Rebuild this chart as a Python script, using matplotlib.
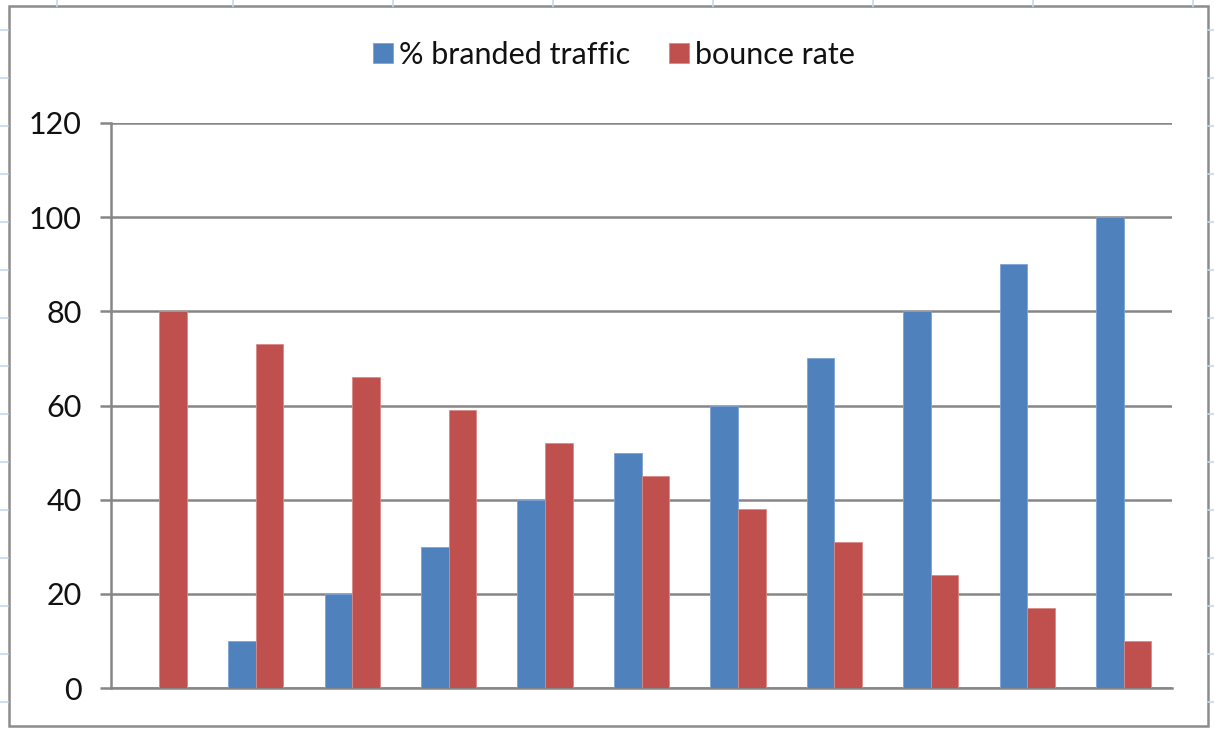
import matplotlib
matplotlib.use("Agg")
import matplotlib.pyplot as plt
from matplotlib.lines import Line2D
from matplotlib.patches import Rectangle
import numpy as np

plt.rcParams['font.family'] = ['Lato', 'DejaVu Sans']

# data
categories = list(range(1, 12))
branded_traffic = [0, 10, 20, 30, 40, 50, 60, 70, 80, 90, 100]
bounce_rate = [80, 73, 66, 59, 52, 45, 38, 31, 24, 17, 10]
y_ticks = [0, 20, 40, 60, 80, 100, 120]

blue = "#4F81BD"
red = "#C0504D"
grid_grey = "#868686"

W, H = 1214, 730
fig = plt.figure(figsize=(W / 100, H / 100), dpi=100)

# spreadsheet cell lines behind the chart object
sheet = "#C9D5EE"
for xv in [57, 233, 393, 553, 713, 873, 1033, 1193]:
    fig.add_artist(Line2D([xv / W, xv / W], [1, 1 - 6 / H], color=sheet, lw=1.2))
for yv in np.arange(30, 730, 48):
    fig.add_artist(Line2D([0, 8 / W], [1 - yv / H, 1 - yv / H], color=sheet, lw=1.2))
    fig.add_artist(Line2D([1208 / W, 1], [1 - yv / H, 1 - yv / H], color=sheet, lw=1.2))

# chart border
fig.add_artist(Rectangle((9 / W, 1 - 726 / H), 1199 / W, 720 / H, fill=False,
                         edgecolor="#8C8C8C", lw=1.8))

ax = fig.add_axes([111 / W, 1 - 688 / H, (1172 - 111) / W, (688 - 123) / H])

x = np.arange(len(categories))
w = 0.286
ax.bar(x - w / 2, branded_traffic, width=w, color=blue, edgecolor="#7FA3D4",
       linewidth=0.6, label="% branded traffic", zorder=3)
ax.bar(x + w / 2, bounce_rate, width=w, color=red, edgecolor="#D98A88",
       linewidth=0.6, label="bounce rate", zorder=3)

ax.set_xlim(-0.5, len(categories) - 0.5)
ax.set_ylim(0, 120)
ax.set_yticks(y_ticks)
ax.set_xticks([])
ax.yaxis.grid(True, color=grid_grey, linewidth=1.8, zorder=0)
ax.set_axisbelow(True)
ax.tick_params(axis='y', length=8, width=1.8, color=grid_grey, pad=13,
               labelsize=22, labelcolor="#111111")
for side in ['top', 'right']:
    ax.spines[side].set_visible(False)
ax.spines['left'].set_color(grid_grey)
ax.spines['left'].set_linewidth(1.8)
ax.spines['bottom'].set_color(grid_grey)
ax.spines['bottom'].set_linewidth(1.8)

fig.legend(loc='center', bbox_to_anchor=(614 / W, 1 - 55 / H), ncol=2,
           frameon=False, fontsize=22, handlelength=0.65, handleheight=0.65,
           handletextpad=0.2, columnspacing=1.3, labelcolor="#111111")

fig.savefig("out.png", dpi=100)
